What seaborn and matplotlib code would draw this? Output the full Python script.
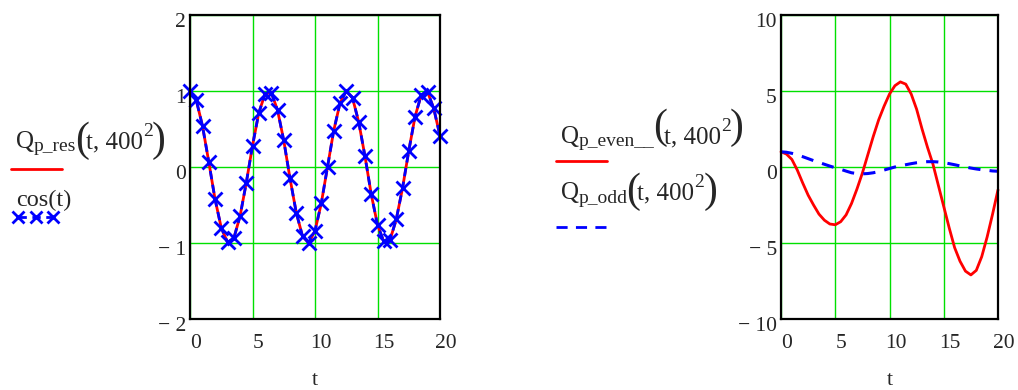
import pandas as pd
import seaborn as sns
import matplotlib.pyplot as plt
from matplotlib.lines import Line2D
from matplotlib.transforms import ScaledTranslation

# sample points (step 0.5 from 0 to 20)
t = [i * 0.5 for i in range(41)]

# left chart: Q_p_res(t, 400^2) and cos(t)
q_res = [1.00, 0.88, 0.54, 0.07, -0.42, -0.80, -0.99, -0.94, -0.65, -0.21,
         0.28, 0.71, 0.96, 0.98, 0.75, 0.35, -0.15, -0.60, -0.91, -1.00,
         -0.84, -0.48, 0.00, 0.48, 0.84, 1.00, 0.91, 0.59, 0.14, -0.36,
         -0.76, -0.98, -0.96, -0.69, -0.28, 0.21, 0.66, 0.95, 0.99, 0.77, 0.41]
cos_t = [1.00, 0.88, 0.54, 0.07, -0.42, -0.80, -0.99, -0.94, -0.65, -0.21,
         0.28, 0.71, 0.96, 0.98, 0.75, 0.35, -0.15, -0.60, -0.91, -1.00,
         -0.84, -0.48, 0.00, 0.48, 0.84, 1.00, 0.91, 0.59, 0.14, -0.36,
         -0.76, -0.98, -0.96, -0.69, -0.28, 0.21, 0.66, 0.95, 0.99, 0.77, 0.41]

# right chart: Q_p_even__(t, 400^2) and Q_p_odd(t, 400^2)
q_even = [1.0, 0.85, 0.5, -0.2, -1.05, -1.85, -2.5, -3.1, -3.5, -3.75,
          -3.8, -3.6, -3.15, -2.4, -1.45, -0.4, 0.8, 2.0, 3.1, 4.0,
          4.8, 5.35, 5.6, 5.45, 4.8, 3.8, 2.5, 1.3, 0.2, -1.2,
          -2.6, -4.0, -5.3, -6.2, -6.85, -7.1, -6.8, -5.9, -4.6, -3.1, -1.5]
q_odd = [1.0, 0.97, 0.9, 0.8, 0.68, 0.55, 0.42, 0.3, 0.18, 0.06,
         -0.05, -0.15, -0.27, -0.38, -0.43, -0.45, -0.43, -0.38, -0.3, -0.2,
         -0.1, 0.0, 0.08, 0.15, 0.22, 0.28, 0.32, 0.35, 0.35, 0.33,
         0.29, 0.22, 0.15, 0.07, 0.0, -0.07, -0.13, -0.18, -0.22, -0.26, -0.28]

x_ticks = [0, 5, 10, 15, 20]
left_yticks = [-2, -1, 0, 1, 2]
left_ylabels = ['\u2212 2', '\u2212 1', '0', '1', '2']
right_yticks = [-10, -5, 0, 5, 10]
right_ylabels = ['\u2212 10', '\u2212 5', '0', '5', '10']

df = pd.DataFrame({'t': t, 'q_res': q_res, 'cos': cos_t,
                   'q_even': q_even, 'q_odd': q_odd})

sns.set_style('white')
plt.rcParams['font.family'] = ['Liberation Serif', 'DejaVu Serif']

W, H = 1018, 390
fig = plt.figure(figsize=(W / 100, H / 100), dpi=100)

ax1 = fig.add_axes([190 / W, (H - 319) / H, 250 / W, 304 / H])
ax2 = fig.add_axes([781 / W, (H - 319) / H, 217 / W, 304 / H])

red = '#ff0000'
blue = '#0000ff'
green = '#00e000'

sns.lineplot(data=df, x='t', y='q_res', ax=ax1, color=red, lw=2,
             estimator=None, sort=False, clip_on=False)
sns.lineplot(data=df, x='t', y='cos', ax=ax1, color=blue, lw=2,
             linestyle=(0, (3, 2)), marker='x', markersize=9.5, mew=2,
             mec=blue, estimator=None, sort=False, clip_on=False)

sns.lineplot(data=df, x='t', y='q_even', ax=ax2, color=red, lw=2,
             estimator=None, sort=False, clip_on=False)
sns.lineplot(data=df, x='t', y='q_odd', ax=ax2, color=blue, lw=2.2,
             linestyle=(0, (4, 3)), estimator=None, sort=False, clip_on=False)


def style(ax, yticks, ylabels, ylim):
    ax.set_xlim(0, 20)
    ax.set_ylim(*ylim)
    ax.set_xticks(x_ticks)
    ax.set_xticklabels([str(v) for v in x_ticks])
    ax.set_yticks(yticks)
    ax.set_yticklabels(ylabels)
    ax.grid(True, color=green, lw=1)
    ax.set_axisbelow(True)
    for s in ax.spines.values():
        s.set_color('black')
        s.set_linewidth(1.6)
        s.set_visible(True)
    ax.tick_params(axis='x', length=0, pad=11, labelsize=15.5)
    ax.tick_params(axis='y', length=0, pad=3, labelsize=15.5)
    ax.set_xlabel('t', fontsize=16, labelpad=13)
    ax.set_ylabel('')
    off_x = ScaledTranslation(6 / 100, 0, fig.dpi_scale_trans)
    for lab in ax.get_xticklabels():
        lab.set_transform(lab.get_transform() + off_x)
    off_y = ScaledTranslation(0, -5 / 100, fig.dpi_scale_trans)
    for lab in ax.get_yticklabels():
        lab.set_transform(lab.get_transform() + off_y)


style(ax1, left_yticks, left_ylabels, (-2, 2))
style(ax2, right_yticks, right_ylabels, (-10, 10))

# legend labels built from text pieces, placed in figure pixels
renderer = fig.canvas.get_renderer()


def compose(x0, base, pieces):
    x = x0
    for s, size, dy, adj in pieces:
        txt = fig.text(x / W, 1 - (base - dy) / H, s, fontsize=size,
                       ha='left', va='baseline')
        x += txt.get_window_extent(renderer).width + adj


def label(x0, base, sub, paren_dy):
    compose(x0, base, [('Q', 18, 0, 0), (sub, 14, -3.5, -1.5),
                       ('(', 30, paren_dy, -3), ('t, 400', 18, 0, 0),
                       ('2', 14, 12, -1), (')', 30, paren_dy, 0)])


label(16, 148, 'p_res', -3)
fig.add_artist(Line2D([11 / W, 62 / W], [1 - 169 / H] * 2, color=red, lw=2))
fig.text(16 / W, 1 - 206 / H, 'cos(t)', fontsize=17.5, ha='left', va='baseline')
fig.add_artist(Line2D([18 / W, 36 / W, 53 / W], [1 - 217 / H] * 3, color=blue,
                      lw=2, linestyle=(0, (3, 2)), marker='x', markersize=9,
                      mew=2))

label(561, 143, 'p_even__', 5)
fig.add_artist(Line2D([556 / W, 607 / W], [1 - 161 / H] * 2, color=red, lw=2))
label(561, 199, 'p_odd', -3)
fig.add_artist(Line2D([556 / W, 607 / W], [1 - 227 / H] * 2, color=blue, lw=2,
                      linestyle=(0, (4, 3))))

fig.savefig('out.png', dpi=100)
